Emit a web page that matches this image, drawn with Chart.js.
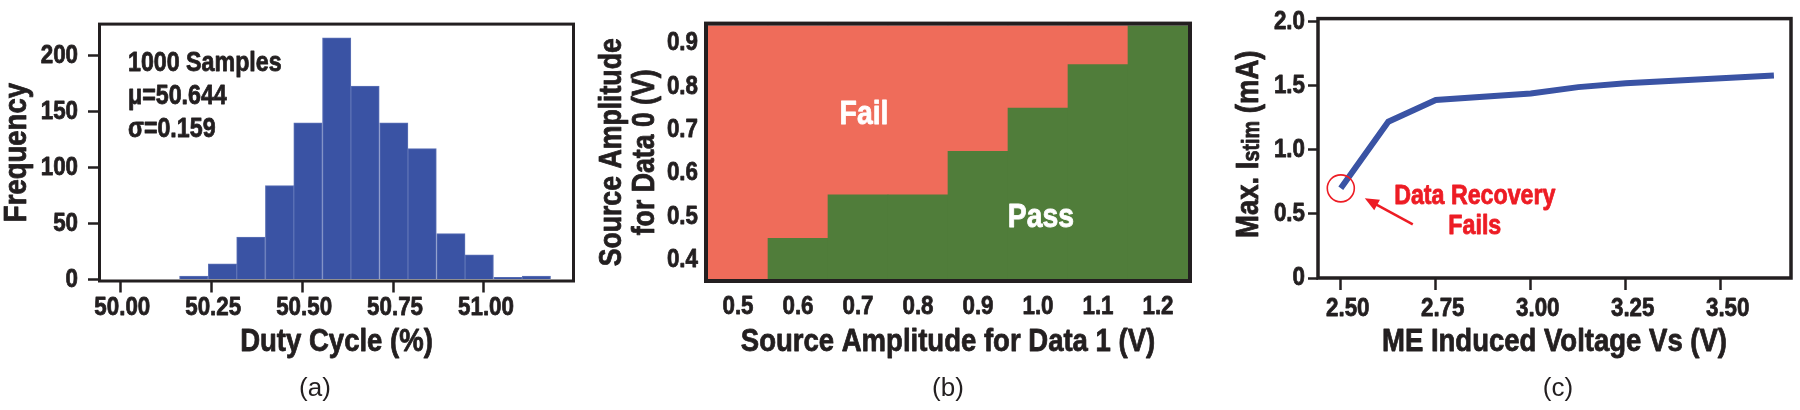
<!DOCTYPE html>
<html lang="en">
<head>
<meta charset="UTF-8">
<title>Duty cycle, pass/fail map and max stimulation current</title>
<script src="https://cdn.jsdelivr.net/npm/chart.js"></script>
<style>
  html, body { margin: 0; padding: 0; background: #fff; }
  #wrap { position: relative; width: 1800px; height: 410px; overflow: hidden; }
  .panel { position: absolute; top: 0; height: 410px; }
</style>
</head>
<body>
<div id="wrap">
  <div class="panel" style="left:0;width:590px"><canvas id="chartA" width="590" height="410"></canvas></div>
  <div class="panel" style="left:590px;width:610px"><canvas id="chartB" width="610" height="410"></canvas></div>
  <div class="panel" style="left:1200px;width:600px"><canvas id="chartC" width="600" height="410"></canvas></div>
</div>
<script>
// (a) duty cycle histogram (bin centres, %) and counts
const dutyBins = [50.202, 50.281, 50.359, 50.438, 50.516, 50.595, 50.673, 50.752, 50.830, 50.909, 50.987, 51.066, 51.144];
const dutyCounts = [3, 14, 38, 84, 140, 216, 173, 140, 117, 41, 22, 2, 3];
const dutyTicks = [50.00, 50.25, 50.50, 50.75, 51.00];
const freqTicks = [0, 50, 100, 150, 200];
const dutyStats = ['1000 Samples', '\u03bc=50.644', '\u03c3=0.159'];

// (b) pass / fail map: highest Data 0 amplitude that still passes, per Data 1 amplitude
const data1Levels = [0.5, 0.6, 0.7, 0.8, 0.9, 1.0, 1.1, 1.2];
const data0Levels = [0.4, 0.5, 0.6, 0.7, 0.8, 0.9];
const passUpTo = [null, 0.4, 0.5, 0.5, 0.6, 0.7, 0.8, 0.9];

// (c) max stimulation current vs ME induced voltage
const vsVolts = [2.5, 2.625, 2.75, 3.0, 3.125, 3.25, 3.64];
const maxIstim = [0.70, 1.22, 1.39, 1.44, 1.49, 1.52, 1.58];
const vsTicks = [2.5, 2.75, 3.0, 3.25, 3.5];
const istimTicks = [0, 0.5, 1.0, 1.5, 2.0];

const INK = '#231f20';
const SANS = "'Liberation Sans', Arial, sans-serif";
const SQUEEZE = 0.86;   // no condensed face installed, so squeeze the bold sans
const tickFont = {family: SANS, size: 26, weight: 'bold', lineHeight: 1.2};
const titleFont = {family: SANS, size: 32, weight: 'bold', lineHeight: 1.2};

Chart.defaults.color = INK;
Chart.defaults.animation = false;

// draw every text of a canvas horizontally condensed and a touch heavier
function narrowText(canvas) {
  const ctx = canvas.getContext('2d');
  const fill = ctx.fillText;
  const stroke = ctx.strokeText;
  const measure = ctx.measureText;
  ctx.squeeze = SQUEEZE;
  ctx.fillText = function (text, x, y, maxWidth) {
    const k = this.squeeze;
    if (k === 1) return fill.apply(this, arguments);
    this.save();
    this.translate(x, y);
    this.scale(k, 1);
    const mw = (maxWidth === undefined || maxWidth === null) ? undefined : maxWidth / k;
    if (mw === undefined) fill.call(this, text, 0, 0); else fill.call(this, text, 0, 0, mw);
    this.strokeStyle = this.fillStyle;
    this.lineWidth = 0.8;
    this.lineJoin = 'round';
    if (mw === undefined) stroke.call(this, text, 0, 0); else stroke.call(this, text, 0, 0, mw);
    this.restore();
  };
  ctx.measureText = function (text) {
    const m = measure.call(this, text);
    return {
      width: m.width * this.squeeze,
      actualBoundingBoxAscent: m.actualBoundingBoxAscent,
      actualBoundingBoxDescent: m.actualBoundingBoxDescent,
      actualBoundingBoxLeft: m.actualBoundingBoxLeft * this.squeeze,
      actualBoundingBoxRight: m.actualBoundingBoxRight * this.squeeze
    };
  };
  return canvas;
}

// thick box around the plot area
const framePlugin = {
  id: 'frame',
  afterDatasetsDraw(chart, args, opts) {
    const {ctx, chartArea: a} = chart;
    const lw = opts.width || 3;
    const out = opts.outside ? lw / 2 : 0;
    ctx.save();
    ctx.strokeStyle = INK;
    ctx.lineWidth = lw;
    ctx.strokeRect(a.left - out, a.top - out, a.right - a.left + 2 * out, a.bottom - a.top + 2 * out);
    ctx.restore();
  }
};

// (a), (b), (c) under each panel, plain lettering
const captionPlugin = {
  id: 'caption',
  afterDraw(chart, args, opts) {
    const ctx = chart.ctx;
    ctx.save();
    ctx.squeeze = 1;
    ctx.font = `26px ${SANS}`;
    ctx.fillStyle = INK;
    ctx.textAlign = 'center';
    ctx.textBaseline = 'middle';
    ctx.fillText(opts.text, opts.x, 389);
    ctx.squeeze = SQUEEZE;
    ctx.restore();
  }
};

const hiddenLegend = {legend: {display: false}, tooltip: {enabled: false}};

// ---------- (a) ----------
const statsPlugin = {
  id: 'stats',
  afterDraw(chart) {
    const {ctx, chartArea: a} = chart;
    ctx.save();
    ctx.font = `bold 27px ${SANS}`;
    ctx.fillStyle = INK;
    ctx.textBaseline = 'alphabetic';
    dutyStats.forEach((t, i) => ctx.fillText(t, a.left + 27, a.top + 45 + i * 33));
    ctx.restore();
  }
};

new Chart(narrowText(document.getElementById('chartA')), {
  type: 'bar',
  data: {
    datasets: [{
      data: dutyBins.map((x, i) => ({x: x, y: dutyCounts[i]})),
      backgroundColor: '#3a53a4',
      borderColor: '#5d72b6',
      borderWidth: 1,
      barPercentage: 1,
      categoryPercentage: 1
    }]
  },
  options: {
    responsive: false,
    layout: {padding: {top: 18.5, right: 18, left: 0, bottom: 0}},
    plugins: Object.assign({}, hiddenLegend, {frame: {width: 3, outside: true}, caption: {text: '(a)', x: 315}}),
    scales: {
      x: {
        type: 'linear', min: 49.947, max: 51.242, offset: false,
        afterBuildTicks: s => { s.ticks = dutyTicks.map(v => ({value: v})); },
        afterFit: s => { s.height = 130.5; },
        grid: {offset: false, drawOnChartArea: false, drawTicks: true, tickLength: 13, tickWidth: 2.5, tickColor: INK},
        border: {display: false},
        ticks: {font: tickFont, color: INK, padding: 0, maxRotation: 0, autoSkip: false, labelOffset: 2,
                callback: v => Number(v).toFixed(2)},
        title: {display: true, text: 'Duty Cycle (%)', font: titleFont, color: INK, padding: {top: 0, bottom: 49}}
      },
      y: {
        min: 0, max: 227,
        afterBuildTicks: s => { s.ticks = freqTicks.map(v => ({value: v})); },
        afterFit: s => { s.width = 101; },
        grid: {drawOnChartArea: false, drawTicks: true, tickLength: 13, tickWidth: 2.5, tickColor: INK},
        border: {display: false},
        ticks: {font: tickFont, color: INK, padding: 10},
        title: {display: true, text: 'Frequency', color: INK, padding: 0,
                font: {family: SANS, size: 32, weight: 'bold', lineHeight: 1.06}}
      }
    }
  },
  plugins: [framePlugin, captionPlugin, statsPlugin]
});

// ---------- (b) ----------
const half = (data0Levels[1] - data0Levels[0]) / 2;
const bottomEdge = data0Levels[0] - half;
const topEdge = data0Levels[data0Levels.length - 1] + half;
const passBars = [], failBars = [];
data1Levels.forEach((x, i) => {
  const split = passUpTo[i] === null ? bottomEdge : passUpTo[i] + half;
  if (passUpTo[i] !== null) passBars.push({x: x, y: [bottomEdge, split]});
  failBars.push({x: x, y: [split, topEdge]});
});

const regionLabelPlugin = {
  id: 'regionLabels',
  afterDatasetsDraw(chart) {
    const {ctx, scales: {x, y}} = chart;
    ctx.save();
    ctx.font = `bold 33px ${SANS}`;
    ctx.fillStyle = '#ffffff';
    ctx.textAlign = 'center';
    ctx.textBaseline = 'middle';
    ctx.fillText('Fail', x.getPixelForValue(0.71), y.getPixelForValue(0.735));
    ctx.fillText('Pass', x.getPixelForValue(1.005), y.getPixelForValue(0.497));
    ctx.restore();
  }
};

new Chart(narrowText(document.getElementById('chartB')), {
  type: 'bar',
  data: {
    datasets: [
      {label: 'Pass', data: passBars, backgroundColor: '#507d3a', borderWidth: 0, barPercentage: 1, categoryPercentage: 1},
      {label: 'Fail', data: failBars, backgroundColor: '#ef6c5a', borderWidth: 0, barPercentage: 1, categoryPercentage: 1}
    ]
  },
  options: {
    responsive: false,
    layout: {padding: {top: 19, right: 12, left: 0, bottom: 0}},
    plugins: Object.assign({}, hiddenLegend, {frame: {width: 4, outside: true}, caption: {text: '(b)', x: 358}}),
    scales: {
      x: {
        type: 'linear', min: 0.45, max: 1.25, stacked: true, offset: false,
        afterBuildTicks: s => { s.ticks = data1Levels.map(v => ({value: v})); },
        afterFit: s => { s.height = 131; },
        grid: {offset: true, drawOnChartArea: false, drawTicks: true, tickLength: 4, tickWidth: 1, tickColor: '#9a9a9a'},
        border: {display: false},
        ticks: {font: tickFont, color: INK, padding: 8, maxRotation: 0, autoSkip: false,
                callback: v => Number(v).toFixed(1)},
        title: {display: true, text: 'Source Amplitude for Data 1 (V)', font: titleFont, color: INK, padding: {top: 0, bottom: 49}}
      },
      y: {
        min: 0.356, max: 0.94,
        afterBuildTicks: s => { s.ticks = data0Levels.map(v => ({value: v})); },
        afterFit: s => { s.width = 118; },
        grid: {display: false, drawTicks: false},
        border: {display: false},
        ticks: {font: tickFont, color: INK, padding: 10, callback: v => Number(v).toFixed(1)},
        title: {display: true, text: ['Source Amplitude', 'for Data 0 (V)'], color: INK,
                font: {family: SANS, size: 31, weight: 'bold', lineHeight: 1.065}, padding: {top: 5.5, bottom: 0}}
      }
    }
  },
  plugins: [framePlugin, captionPlugin, regionLabelPlugin]
});

// ---------- (c) ----------
const RED = '#ed1c24';
const istimTitlePlugin = {
  id: 'istimTitle',
  afterDraw(chart) {
    const {ctx, chartArea: a} = chart;
    const parts = [['Max. I', 32, 0], ['stim', 23, 1], [' (mA)', 32, 0]];
    ctx.save();
    let total = 0;
    parts.forEach(p => { ctx.font = `bold ${p[1]}px ${SANS}`; p.push(ctx.measureText(p[0]).width); total += p[3]; });
    ctx.translate(46, (a.top + a.bottom) / 2 - 4);
    ctx.rotate(-Math.PI / 2);
    ctx.fillStyle = INK;
    ctx.textBaseline = 'alphabetic';
    let cx = -total / 2;
    parts.forEach(p => {
      ctx.font = `bold ${p[1]}px ${SANS}`;
      ctx.fillText(p[0], cx, 11.5 + p[2]);
      cx += p[3];
    });
    ctx.restore();
  }
};

const failNotePlugin = {
  id: 'failNote',
  afterDatasetsDraw(chart) {
    const {ctx, scales: {x, y}} = chart;
    const px = x.getPixelForValue(vsVolts[0]);
    const py = y.getPixelForValue(maxIstim[0]);
    ctx.save();
    ctx.strokeStyle = RED;
    ctx.fillStyle = RED;
    ctx.lineWidth = 1.6;
    ctx.beginPath();
    ctx.arc(px, py, 13.5, 0, Math.PI * 2);
    ctx.stroke();
    // arrow pointing back at the circled point
    const hx = px + 24, hy = py + 10, tx = px + 72, ty = py + 36;
    const ang = Math.atan2(hy - ty, hx - tx);
    ctx.lineWidth = 2.5;
    ctx.beginPath();
    ctx.moveTo(tx, ty);
    ctx.lineTo(hx - 8 * Math.cos(ang), hy - 8 * Math.sin(ang));
    ctx.stroke();
    ctx.beginPath();
    ctx.moveTo(hx, hy);
    ctx.lineTo(hx - 14 * Math.cos(ang) + 6 * Math.sin(ang), hy - 14 * Math.sin(ang) - 6 * Math.cos(ang));
    ctx.lineTo(hx - 14 * Math.cos(ang) - 6 * Math.sin(ang), hy - 14 * Math.sin(ang) + 6 * Math.cos(ang));
    ctx.closePath();
    ctx.fill();
    ctx.font = `bold 27px ${SANS}`;
    ctx.textAlign = 'center';
    ctx.textBaseline = 'middle';
    ctx.fillText('Data Recovery', px + 134, py + 8);
    ctx.fillText('Fails', px + 134, py + 38);
    ctx.restore();
  }
};

new Chart(narrowText(document.getElementById('chartC')), {
  type: 'line',
  data: {
    datasets: [{
      data: vsVolts.map((x, i) => ({x: x, y: maxIstim[i]})),
      borderColor: '#3a53a4',
      borderWidth: 6,
      pointRadius: 0,
      tension: 0,
      fill: false
    }]
  },
  options: {
    responsive: false,
    layout: {padding: {top: 16, right: 9, left: 0, bottom: 0}},
    plugins: Object.assign({}, hiddenLegend, {frame: {width: 3.5, outside: false}, caption: {text: '(c)', x: 358}}),
    scales: {
      x: {
        type: 'linear', min: 2.44, max: 3.685,
        afterBuildTicks: s => { s.ticks = vsTicks.map(v => ({value: v})); },
        afterFit: s => { s.height = 132; },
        grid: {drawOnChartArea: false, drawTicks: true, tickLength: 12, tickWidth: 2.5, tickColor: INK},
        border: {display: false},
        ticks: {font: tickFont, color: INK, padding: 3, maxRotation: 0, autoSkip: false, labelOffset: 7,
                callback: v => Number(v).toFixed(2)},
        title: {display: true, text: 'ME Induced Voltage Vs (V)', font: titleFont, color: INK, padding: {top: 0, bottom: 49}}
      },
      y: {
        min: 0, max: 2.025,
        afterBuildTicks: s => { s.ticks = istimTicks.map(v => ({value: v})); },
        afterFit: s => { s.width = 118; },
        grid: {drawOnChartArea: false, drawTicks: true, tickLength: 10, tickWidth: 2.5, tickColor: INK},
        border: {display: false},
        ticks: {font: tickFont, color: INK, padding: 3, callback: v => v === 0 ? '0' : Number(v).toFixed(1)},
        title: {display: false}
      }
    }
  },
  plugins: [framePlugin, captionPlugin, istimTitlePlugin, failNotePlugin]
});
</script>
</body>
</html>
